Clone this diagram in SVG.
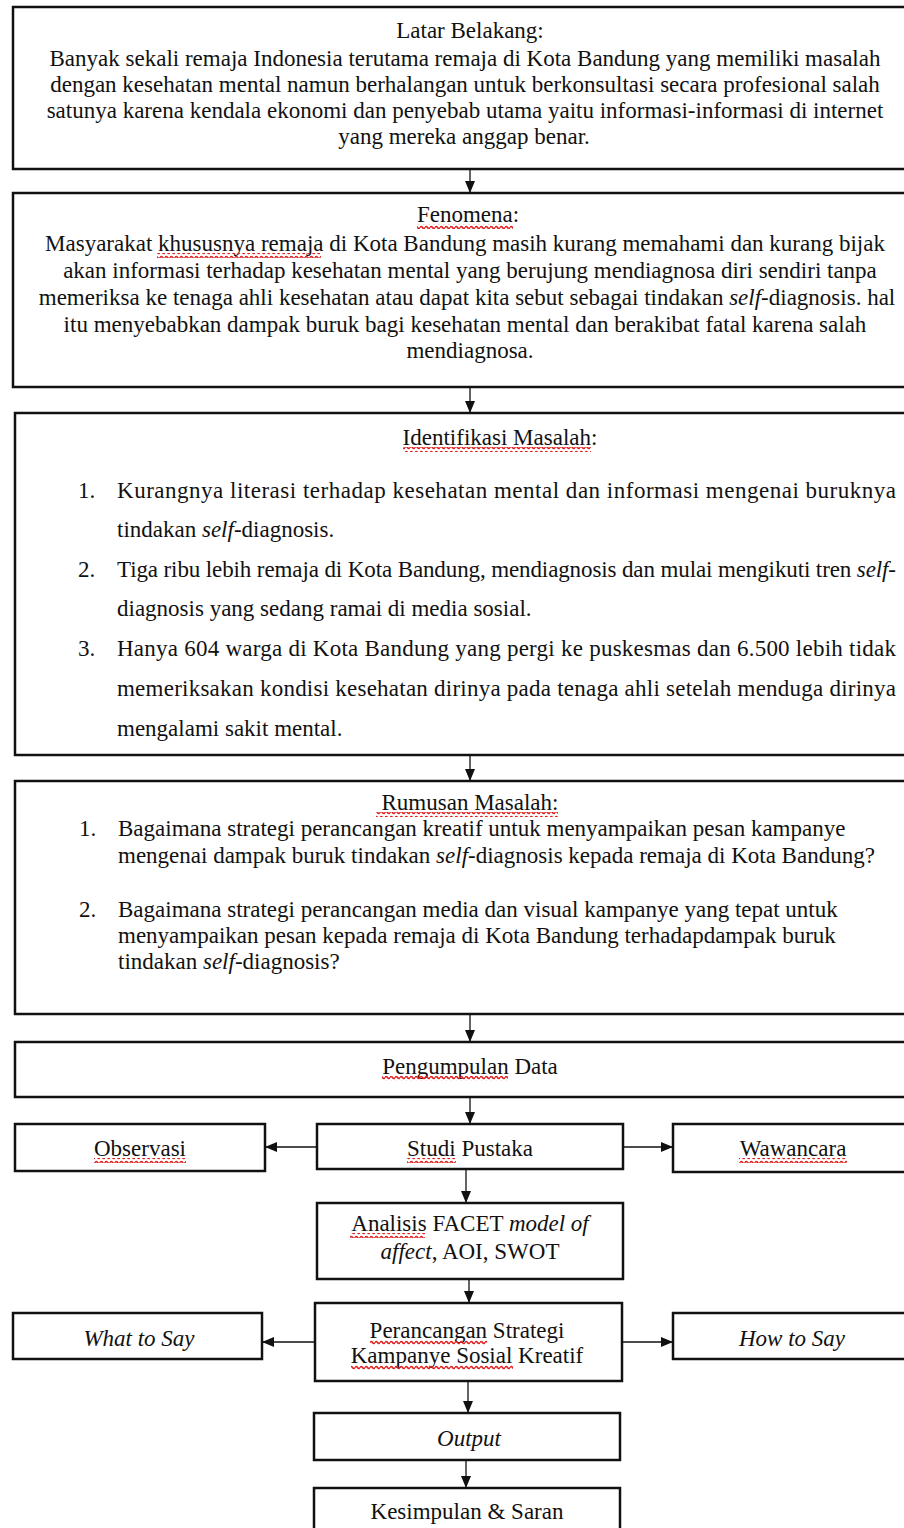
<svg xmlns="http://www.w3.org/2000/svg" width="904" height="1528" viewBox="0 0 904 1528">
<style>
.box{fill:#fff;stroke:#111;stroke-width:2.5}
.t{font-family:"Liberation Serif","Times New Roman",serif;font-size:23px;fill:#111}
.c{text-anchor:middle}
.i{font-style:italic}
.conn{stroke:#111;stroke-width:1.3;fill:none;marker-end:url(#ah)}
.sq{fill:url(#wave)}
</style>
<defs>
<marker id="ah" markerUnits="userSpaceOnUse" markerWidth="12" markerHeight="12" refX="12" refY="5" orient="auto">
<path d="M0,0 L12,5 L0,10 z" fill="#111"/>
</marker>
<pattern id="wave" patternUnits="userSpaceOnUse" width="5" height="5">
<path d="M0,2.5 Q1.25,0.5 2.5,2.5 T5,2.5" stroke="#e02020" stroke-width="1.5" fill="none"/>
</pattern>
</defs>

<g id="latar">
<rect class="box" x="13" y="7" width="900" height="162"/>
<text class="t c" x="470" y="38">Latar Belakang:</text>
<text class="t c" x="465" y="66">Banyak sekali remaja Indonesia terutama remaja di Kota Bandung yang memiliki masalah</text>
<text class="t c" x="465" y="92">dengan kesehatan mental namun berhalangan untuk berkonsultasi secara profesional salah</text>
<text class="t c" x="465" y="118">satunya karena kendala ekonomi dan penyebab utama yaitu informasi-informasi di internet</text>
<text class="t c" x="464" y="144">yang mereka anggap benar.</text>
</g>

<g id="fenomena">
<rect class="box" x="13" y="193" width="900" height="194"/>
<text class="t c" x="468" y="222">Fenomena:</text>
<text class="t c" x="465" y="251">Masyarakat khususnya remaja di Kota Bandung masih kurang memahami dan kurang bijak</text>
<text class="t c" x="470" y="278">akan informasi terhadap kesehatan mental yang berujung mendiagnosa diri sendiri tanpa</text>
<text class="t c" x="467" y="305">memeriksa ke tenaga ahli kesehatan atau dapat kita sebut sebagai tindakan <tspan class="i">self</tspan>-diagnosis. hal</text>
<text class="t c" x="465" y="332">itu menyebabkan dampak buruk bagi kesehatan mental dan berakibat fatal karena salah</text>
<text class="t c" x="470" y="358">mendiagnosa.</text>
</g>

<g id="identifikasi">
<rect class="box" x="15" y="413" width="900" height="342"/>
<text class="t c" x="500" y="445">Identifikasi Masalah:</text>
<text class="t" x="78" y="498">1.</text>
<text class="t" x="117" y="498" textLength="779" lengthAdjust="spacing">Kurangnya literasi terhadap kesehatan mental dan informasi mengenai buruknya</text>
<text class="t" x="117" y="537">tindakan <tspan class="i">self</tspan>-diagnosis.</text>
<text class="t" x="78" y="577">2.</text>
<text class="t" x="117" y="577" textLength="779" lengthAdjust="spacing">Tiga ribu lebih remaja di Kota Bandung, mendiagnosis dan mulai mengikuti tren <tspan class="i">self</tspan>-</text>
<text class="t" x="117" y="616">diagnosis yang sedang ramai di media sosial.</text>
<text class="t" x="78" y="656">3.</text>
<text class="t" x="117" y="656" textLength="779" lengthAdjust="spacing">Hanya 604 warga di Kota Bandung yang pergi ke puskesmas dan 6.500 lebih tidak</text>
<text class="t" x="117" y="696" textLength="779" lengthAdjust="spacing">memeriksakan kondisi kesehatan dirinya pada tenaga ahli setelah menduga dirinya</text>
<text class="t" x="117" y="736">mengalami sakit mental.</text>
</g>

<g id="rumusan">
<rect class="box" x="15" y="781" width="900" height="233"/>
<text class="t c" x="470" y="810">Rumusan Masalah:</text>
<text class="t" x="79" y="836">1.</text>
<text class="t" x="118" y="836">Bagaimana strategi perancangan kreatif untuk menyampaikan pesan kampanye</text>
<text class="t" x="118" y="863">mengenai dampak buruk tindakan <tspan class="i">self</tspan>-diagnosis kepada remaja di Kota Bandung?</text>
<text class="t" x="79" y="917">2.</text>
<text class="t" x="118" y="917">Bagaimana strategi perancangan media dan visual kampanye yang tepat untuk</text>
<text class="t" x="118" y="943">menyampaikan pesan kepada remaja di Kota Bandung terhadapdampak buruk</text>
<text class="t" x="118" y="969">tindakan <tspan class="i">self</tspan>-diagnosis?</text>
</g>

<g id="pengumpulan">
<rect class="box" x="15" y="1042" width="900" height="55"/>
<text class="t c" x="470" y="1074">Pengumpulan Data</text>
</g>

<g id="observasi">
<rect class="box" x="15" y="1124" width="250" height="47"/>
<text class="t c" x="140" y="1156">Observasi</text>
</g>

<g id="studi">
<rect class="box" x="317" y="1124" width="306" height="45"/>
<text class="t c" x="470" y="1156">Studi Pustaka</text>
</g>

<g id="wawancara">
<rect class="box" x="673" y="1124" width="240" height="48"/>
<text class="t c" x="793" y="1156">Wawancara</text>
</g>

<g id="analisis">
<rect class="box" x="317" y="1203" width="306" height="76"/>
<text class="t c" x="470" y="1231">Analisis FACET <tspan class="i">model of</tspan></text>
<text class="t c" x="470" y="1259"><tspan class="i">affect</tspan>, AOI, SWOT</text>
</g>

<g id="whattosay">
<rect class="box" x="13" y="1313" width="249" height="46"/>
<text class="t c i" x="139" y="1346">What to Say</text>
</g>

<g id="perancangan">
<rect class="box" x="315" y="1303" width="307" height="78"/>
<text class="t c" x="467" y="1338">Perancangan Strategi</text>
<text class="t c" x="467" y="1363">Kampanye Sosial Kreatif</text>
</g>

<g id="howtosay">
<rect class="box" x="673" y="1313" width="240" height="46"/>
<text class="t c i" x="792" y="1346">How to Say</text>
</g>

<g id="output">
<rect class="box" x="314" y="1413" width="306" height="47"/>
<text class="t c i" x="469" y="1446">Output</text>
</g>

<g id="kesimpulan">
<rect class="box" x="314" y="1488" width="306" height="50"/>
<text class="t c" x="467" y="1519">Kesimpulan &amp; Saran</text>
</g>

<g id="connectors">
<line class="conn" x1="470" y1="169" x2="470" y2="193"/>
<line class="conn" x1="470" y1="387" x2="470" y2="413"/>
<line class="conn" x1="470" y1="755" x2="470" y2="781"/>
<line class="conn" x1="470" y1="1014" x2="470" y2="1042"/>
<line class="conn" x1="470" y1="1097" x2="470" y2="1124"/>
<line class="conn" x1="317" y1="1147" x2="265" y2="1147"/>
<line class="conn" x1="623" y1="1147" x2="673" y2="1147"/>
<line class="conn" x1="466" y1="1169" x2="466" y2="1203"/>
<line class="conn" x1="469" y1="1279" x2="469" y2="1303"/>
<line class="conn" x1="315" y1="1342" x2="262" y2="1342"/>
<line class="conn" x1="622" y1="1342" x2="673" y2="1342"/>
<line class="conn" x1="468" y1="1381" x2="468" y2="1413"/>
<line class="conn" x1="466" y1="1460" x2="466" y2="1488"/>
</g>

<g id="spellcheck">
<rect class="sq" x="417" y="224" width="96" height="5"/>
<rect class="sq" x="157" y="253" width="164" height="5"/>
<rect class="sq" x="403" y="447" width="188" height="5"/>
<rect class="sq" x="376" y="812" width="182" height="5"/>
<rect class="sq" x="382" y="1076" width="126" height="5"/>
<rect class="sq" x="94" y="1158" width="92" height="5"/>
<rect class="sq" x="407" y="1158" width="49" height="5"/>
<rect class="sq" x="739" y="1158" width="108" height="5"/>
<rect class="sq" x="350" y="1233" width="75" height="5"/>
<rect class="sq" x="370" y="1340" width="117" height="5"/>
<rect class="sq" x="351" y="1365" width="162" height="5"/>
</g>
</svg>
